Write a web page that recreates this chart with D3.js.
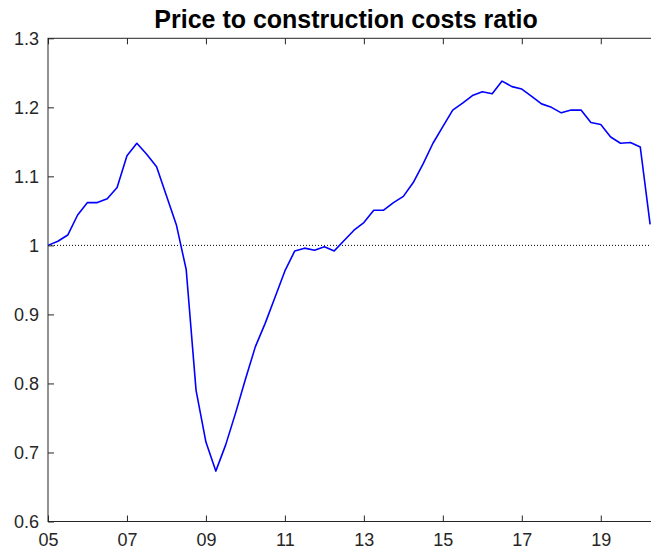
<!DOCTYPE html>
<html>
<head>
<meta charset="utf-8">
<script src="https://cdn.jsdelivr.net/npm/d3@7"></script>
<style>
  body { margin: 0; background: #fff; }
  svg { display: block; }
</style>
</head>
<body>
<script>
// quarterly, 2005Q1 .. 2020Q2
var startYear = 2005;
var ratio = [
  1.000, 1.006, 1.015, 1.044, 1.062, 1.062, 1.0675, 1.084,
  1.130, 1.148, 1.132, 1.114, 1.072, 1.030, 0.965, 0.790,
  0.715, 0.673, 0.711, 0.757, 0.806, 0.853, 0.887, 0.925,
  0.963, 0.992, 0.996, 0.993, 0.998, 0.992, 1.007, 1.022,
  1.033, 1.051, 1.051, 1.062, 1.071, 1.091, 1.118, 1.148,
  1.172, 1.196, 1.206, 1.217, 1.2226, 1.2197, 1.238, 1.230,
  1.2265, 1.216, 1.205, 1.200, 1.192, 1.196, 1.196, 1.178,
  1.175, 1.157, 1.148, 1.149, 1.1425, 1.0305
];
var xTicks = [2005, 2007, 2009, 2011, 2013, 2015, 2017, 2019];
var yTicks = [0.6, 0.7, 0.8, 0.9, 1, 1.1, 1.2, 1.3];
var baseline = 1;

var data = ratio.map(function(v, i){ return {t: startYear + i/4, v: v}; });

var width = 651, height = 554;
var plotL = 48, plotT = 38.3, plotB = 521.5, plotR = 660;

var svg = d3.select("body").append("svg")
    .attr("width", width)
    .attr("height", height);

var x = d3.scaleLinear().domain([2005, 2020.5]).range([plotL, plotR]);
var y = d3.scaleLinear().domain([0.6, 1.3]).range([plotB, plotT]);

var axisColor = "#262626";
var font = "'Liberation Sans', Arial, sans-serif";

// box
svg.append("rect")
    .attr("x", plotL).attr("y", plotT)
    .attr("width", plotR - plotL).attr("height", plotB - plotT)
    .attr("fill", "none").attr("stroke", axisColor).attr("stroke-width", 1);

// reference line at 1
svg.append("line")
    .attr("x1", plotL).attr("x2", plotR)
    .attr("y1", y(baseline)).attr("y2", y(baseline))
    .attr("stroke", "#000").attr("stroke-width", 1)
    .attr("stroke-dasharray", "1,2");

// series
var line = d3.line()
    .x(function(d){ return x(d.t); })
    .y(function(d){ return y(d.v); });

svg.append("path")
    .datum(data)
    .attr("d", line)
    .attr("fill", "none")
    .attr("stroke", "#0000ff")
    .attr("stroke-width", 1.6)
    .attr("stroke-linejoin", "round");

// axes (ticks inward, like matlab)
var xAxisB = d3.axisBottom(x).tickValues(xTicks).tickSizeInner(-6).tickSizeOuter(0)
    .tickPadding(12)
    .tickFormat(function(d){ return d3.format("02d")(d % 100); });
var xAxisT = d3.axisTop(x).tickValues(xTicks).tickSizeInner(-6).tickSizeOuter(0)
    .tickFormat("");
var yAxisL = d3.axisLeft(y).tickValues(yTicks).tickSizeInner(-6).tickSizeOuter(0)
    .tickPadding(9)
    .tickFormat(function(d){ return d3.format("~g")(d); });

function styleAxis(g){
  g.select(".domain").remove();
  g.selectAll(".tick line").attr("stroke", axisColor);
  g.selectAll(".tick text")
      .attr("fill", axisColor)
      .style("font-family", font)
      .style("font-size", "18px");
}

svg.append("g").attr("transform", "translate(0," + plotB + ")").call(xAxisB).call(styleAxis);
svg.append("g").attr("transform", "translate(0," + plotT + ")").call(xAxisT).call(styleAxis);
svg.append("g").attr("transform", "translate(" + plotL + ",0)").call(yAxisL).call(styleAxis);

// title
svg.append("text")
    .attr("x", 346)
    .attr("y", 28)
    .attr("text-anchor", "middle")
    .style("font-family", font)
    .style("font-weight", "bold")
    .style("font-size", "25px")
    .attr("fill", "#000")
    .text("Price to construction costs ratio");
</script>
</body>
</html>
